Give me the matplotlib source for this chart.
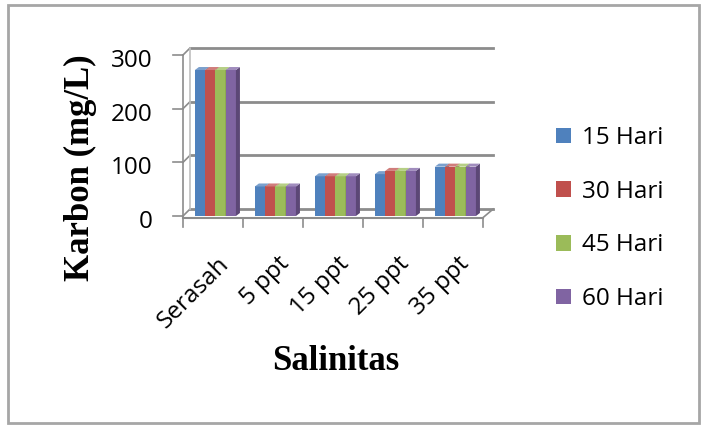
import matplotlib
matplotlib.use("Agg")
import matplotlib.pyplot as plt
import matplotlib.transforms as mtransforms
import numpy as np

categories = ["Serasah", "5 ppt", "15 ppt", "25 ppt", "35 ppt"]
series = ["15 Hari", "30 Hari", "45 Hari", "60 Hari"]
hari15 = [272, 55, 74, 78, 92]
hari30 = [272, 55, 74, 84, 92]
hari45 = [272, 55, 74, 84, 92]
hari60 = [272, 55, 74, 84, 92]
yticks = [0, 100, 200, 300]

front = ["#4F81BD", "#C0504D", "#9BBB59", "#8064A2"]
side = ["#385D8A", "#8C3836", "#71893F", "#5C4776"]
top = ["#7BA0CD", "#D07D7B", "#B6CF85", "#A08CBD"]
grid_c = "#8C8C8C"

fig = plt.figure(figsize=(7.07, 4.26), dpi=100)
ax = fig.add_axes([183 / 707, 1 - 216 / 426, 300 / 707, 161 / 426])
ax.set_xlim(0, 5)
ax.set_ylim(0, 300)
for s in ax.spines.values():
    s.set_visible(False)

# pseudo 3d offsets (data units)
bx, by = 0.117, 13   # back wall
sx, sy = 0.067, 5.6  # bar depth

# back wall gridlines + left wall
for v in yticks:
    ax.plot([bx, 5 + bx * 1.45], [v + by, v + by], color=grid_c, lw=2, zorder=1, clip_on=False)
    ax.plot([0, bx], [v, v + by], color=grid_c, lw=1.2, zorder=1, clip_on=False)
    ax.plot([-0.17, 0], [v, v], color=grid_c, lw=1.2, zorder=1, clip_on=False)
ax.plot([bx, bx], [by, 300 + by], color="#BFBFBF", lw=1.2, zorder=1, clip_on=False)
ax.plot([0, 0], [0, 300], color=grid_c, lw=1.2, zorder=1, clip_on=False)
# floor
ax.plot([0, 5], [-3, -3], color=grid_c, lw=1.5, zorder=1, clip_on=False)
ax.plot([5, 5 + bx * 1.45], [-3, by], color=grid_c, lw=1.2, zorder=1, clip_on=False)
for i in range(6):
    ax.plot([i, i], [-3, -20], color=grid_c, lw=1.2, zorder=1, clip_on=False)

data = [hari15, hari30, hari45, hari60]
x = np.arange(len(categories))
w = 0.171
for j, vals in enumerate(data):
    xs = x + 0.54 + (j - 1.5) * w
    ax.bar(xs, vals, width=w, color=front[j], label=series[j], zorder=3 + j, linewidth=0)
    for xc, v in zip(xs, vals):
        r = xc + w / 2
        l = xc - w / 2
        ax.fill([r, r + sx, r + sx, r], [0, sy, v + sy, v], color=side[j], zorder=3 + j, lw=0)
        ax.fill([l, l + sx, r + sx, r], [v, v + sy, v + sy, v], color=top[j], zorder=3 + j, lw=0)

sans = "Open Sans"
ax.set_yticks(yticks)
ax.set_yticklabels([str(v) for v in yticks], fontsize=17.5, family=sans)
ax.tick_params(axis="y", length=0, pad=22)
for lbl in ax.get_yticklabels():
    lbl.set_transform(lbl.get_transform() + mtransforms.ScaledTranslation(0, -3 / 100, fig.dpi_scale_trans))

ax.set_xticks(x + 0.5)
ax.set_xticklabels(categories, fontsize=17.5, family=sans, rotation=45, ha="right", rotation_mode="anchor")
ax.tick_params(axis="x", length=0, pad=26)
for lbl in ax.get_xticklabels():
    lbl.set_transform(lbl.get_transform() + mtransforms.ScaledTranslation(4 / 100, 0, fig.dpi_scale_trans))

fig.text(80 / 707, 1 - 168 / 426, "Karbon (mg/L)", rotation=90, ha="center", va="center",
         family="Liberation Serif", weight="bold", fontsize=25)
fig.text(336 / 707, 1 - 361 / 426, "Salinitas", ha="center", va="center",
         family="Liberation Serif", weight="bold", fontsize=25)

fig.legend(loc="upper left", bbox_to_anchor=(556 / 707, 1 - 126 / 426), frameon=False,
           prop={"family": sans, "size": 17.5}, handlelength=0.62, handleheight=0.62,
           handletextpad=0.45, labelspacing=1.22, borderpad=0, borderaxespad=0)

fig.patches.append(plt.Rectangle((8 / 707, 3 / 426), 691 / 707, 418 / 426, transform=fig.transFigure,
                                 fill=False, edgecolor="#A6A6A6", lw=2))

fig.savefig("out.png", dpi=100)
